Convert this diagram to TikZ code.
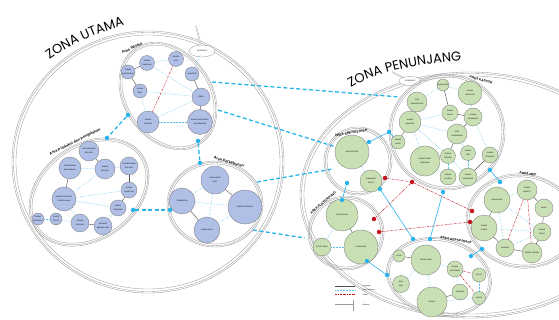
\documentclass[tikz,border=0pt]{standalone}
\usepackage{fontspec}
\setsansfont{Liberation Sans}
\newfontfamily\zonafont{Poppins}
\usetikzlibrary{positioning,calc,decorations.text}

\definecolor{utamafill}{HTML}{AFBFE6}
\definecolor{tunjangfill}{HTML}{C9E0B4}
\definecolor{hubcyan}{HTML}{27B4EA}
\definecolor{lineblue}{HTML}{5CC2EC}
\definecolor{linered}{HTML}{C3121E}
\definecolor{ringgray}{HTML}{9A9A9A}

\newcommand{\ruangfont}{\sffamily\fontsize{1.8}{3.4}\selectfont}
\newcommand{\areafont}{\sffamily\bfseries\fontsize{3.8}{4}\selectfont}

\tikzset{
  ruang/.style={circle,draw=black!55,line width=0.3pt,inner sep=0pt,align=center,font=\ruangfont},
  utama/.style={ruang,fill=utamafill,minimum size=#1},
  tunjang/.style={ruang,fill=tunjangfill,minimum size=#1},
  langsung/.style={draw=black!70,line width=0.4pt},
  dekat/.style={draw=lineblue,line width=0.5pt,densely dotted},
  jauh/.style={draw=linered,line width=0.45pt,dash pattern=on 2pt off 1pt on 0.6pt off 1pt},
  hub/.style={circle,fill=hubcyan,inner sep=0pt,minimum size=4.5pt},
  hubmerah/.style={circle,fill=linered,inner sep=0pt,minimum size=4.5pt},
  antarzona/.style={draw=hubcyan,line width=1.3pt,dash pattern=on 4pt off 2.5pt},
  sambung/.style={draw=hubcyan,line width=0.6pt},
  ring/.style={draw=ringgray,line width=0.35pt},
  arealabel/.style={font=\areafont,inner sep=0pt},
  zonatitle/.style={decorate,decoration={text along path,text align=center,text={#1}}},
}

\begin{document}
\begin{tikzpicture}[x=1pt,y=-1pt]
  \useasboundingbox (0,0) rectangle (559,320);

  % zona rings
  \foreach \d in {0,1.5,4} {
    \draw[ring] (148,162) ellipse [x radius=136-\d, y radius=131-\d];
    \draw[ring] (470,195) ellipse [x radius=170-\d, y radius=123-\d];
  }
  \path[zonatitle={|\zonafont\fontsize{13}{13}\selectfont|ZONA UTAMA}]
    (36,72) .. controls (61,46) and (103,30) .. (142,20);
  \path[zonatitle={|\zonafont\fontsize{13}{13}\selectfont|ZONA PENUNJANG}]
    (338,98) .. controls (362,72) and (425,62) .. (478,60);

  % entrances
  \draw[ringgray,line width=1.2pt] (196,26) -- (201,46);
  \draw[white,line width=0.5pt] (196,26) -- (201,46);
  \draw[ring,fill=white] (202,51) ellipse [x radius=13, y radius=6];
  \node[font=\ruangfont] (entUtama) at (202,51) {ENTRANCE};
  \draw[ringgray,line width=1.2pt] (392,72) -- (404,78);
  \draw[white,line width=0.5pt] (392,72) -- (404,78);
  \draw[ring,fill=white] (410,81) ellipse [x radius=11, y radius=4.5];
  \node[font=\ruangfont] (entTunjang) at (410,81) {ENTRANCE};

  % area rings, zona utama
  \foreach \d in {0,1.3,3} {
    \draw[ring,rotate around={-55:(168,96)}] (168,96) ellipse [x radius=58-\d, y radius=44-\d];
    \draw[ring,rotate around={35:(89,192)}] (89,192) ellipse [x radius=65-\d, y radius=48-\d];
    \draw[ring] (215,204) ellipse [x radius=48-\d, y radius=43-\d];
  }
  % area rings, zona penunjang
  \foreach \d in {0,1.3,3} {
    \draw[ring] (358,161) circle [radius=34-\d];
    \draw[ring] (346,233) ellipse [x radius=38-\d, y radius=37-\d];
    \draw[ring] (447,132) circle [radius=58-\d];
    \draw[ring,rotate around={-12:(439,277)}] (439,277) ellipse [x radius=53-\d, y radius=39-\d];
    \draw[ring,rotate around={-8:(522,221)}] (522,221) ellipse [x radius=56-\d, y radius=47-\d];
  }

  \node[arealabel,rotate=25] at (132,48) {Area Wisata};
  \node[arealabel,rotate=26] at (75,142) {Area Produksi dan Pengolahan};
  \node[arealabel,rotate=-16] at (229,162) {Area Perkebunan};
  \node[arealabel,rotate=10,font=\sffamily\bfseries\fontsize{3.2}{3.5}\selectfont] at (351,133) {AREA AMPHITEATER};
  \node[arealabel,rotate=40,font=\sffamily\bfseries\fontsize{3.2}{3.5}\selectfont] at (323,203) {AREA PLAYGROUND};
  \node[arealabel,rotate=-16,font=\sffamily\bfseries\fontsize{3.2}{3.5}\selectfont] at (481,80) {AREA KANTOR};
  \node[arealabel,rotate=-10,font=\sffamily\bfseries\fontsize{3.2}{3.5}\selectfont] at (456,240) {AREA RESTAURANT};
  \node[arealabel,rotate=-8,font=\sffamily\bfseries\fontsize{3.2}{3.5}\selectfont] at (528,174) {AREA MEP};

  % area wisata
  \node[utama=15] (wisA) at (147,63) {RUANG\\PAMERAN};
  \node[utama=15] (wisB) at (176,59) {GALERI\\KOPI};
  \node[utama=14] (wisC) at (128,72) {RUANG\\AUDIOVISUAL};
  \node[utama=14] (wisD) at (192,74) {SOUVENIR};
  \node[utama=14] (wisE) at (140,91) {KEBUN\\BIBIT};
  \node[utama=18] (wisF) at (201,97) {LOBBY};
  \node[utama=22] (wisG) at (148,122) {RUANG\\EDUKASI};
  \node[utama=25] (wisH) at (200,122) {RUANG WORKSHOP\\DAN SEMINAR};
  \path[langsung] (wisA) edge (wisC) (wisC) edge (wisE)
    (wisD) edge (wisF) (wisF) edge (wisH);
  \path[dekat] (wisA) edge (wisB) (wisA) edge (wisF) (wisE) edge (wisF)
    (wisE) edge (wisG) (wisG) edge (wisF) (wisG) edge (wisH) (entUtama) edge (wisD);
  \path[jauh] (wisG) edge (wisB);

  % area produksi dan pengolahan
  \node[utama=20] (proA) at (89,151) {PENYIMPANAN\\BIJI KOPI};
  \node[utama=22] (proB) at (70,168) {PENERIMAAN\\BAHAN BAKU};
  \node[utama=20] (proC) at (105,169) {RUANG\\SORTASI};
  \node[utama=18] (proD) at (129,166) {PENGERINGAN\\BIJI KOPI};
  \node[utama=24] (proE) at (64,199) {RUANG PRODUKSI\\PENGOLAHAN};
  \node[utama=16] (proF) at (129,190) {RUANG\\ROASTING};
  \node[utama=16] (proG) at (118,208) {RUANG\\GRINDING};
  \node[utama=12] (proH) at (38,219) {RUANG\\ISTIRAHAT};
  \node[utama=12] (proI) at (56,219) {LOKER\\TOILET};
  \node[utama=18] (proJ) at (80,223) {RUANG\\PACKING};
  \node[utama=18] (proK) at (103,226) {GUDANG\\BARANG JADI};
  \path[langsung] (proA) edge (proC) (proB) edge (proE) (proD) edge (proF)
    (proF) edge (proG) (proJ) edge (proK);
  \path[dekat] (proB) edge (proC) (proC) edge (proD) (proC) edge (proE)
    (proE) edge (proF) (proE) edge (proG) (proE) edge (proJ)
    (proH) edge (proI) (proI) edge (proJ) (proK) edge (proG);

  % area perkebunan
  \node[utama=28] (kebA) at (215,180) {KEBUN BIBIT\\KOPI};
  \node[utama=26] (kebB) at (182,201) {PEMBIBITAN};
  \node[utama=34] (kebC) at (245,207) {KEBUN PRODUKSI};
  \node[utama=26] (kebD) at (207,230) {RUMAH KACA};
  \path[langsung] (kebA) edge (kebC) (kebB) edge (kebD);
  \path[dekat] (kebA) edge (kebB) (kebB) edge (kebC) (kebA) edge (kebD) (kebC) edge (kebD);

  % hubungan antar area, zona utama
  \node[hub] (hubWisSW) at (128,115) {};
  \node[hub] (hubProNE) at (107,138) {};
  \node[hub] (hubWisS) at (198,141) {};
  \node[hub] (hubKebN) at (200,163) {};
  \node[hub] (hubProE) at (133,210) {};
  \node[hub] (hubKebW) at (170,210) {};
  \path[antarzona] (hubWisSW) edge (hubProNE) (hubWisS) edge (hubKebN)
    (hubProE) edge (hubKebW);

  % hubungan antar zona
  \coordinate (utamaA) at (212,82);
  \coordinate (utamaB) at (218,110);
  \coordinate (utamaC) at (257,182);
  \coordinate (utamaD) at (253,230);
  \coordinate (tunjangA) at (400,97);
  \coordinate (tunjangC) at (333,169);
  \coordinate (tunjangD) at (305,238);

  % area amphiteater
  \node[tunjang=34] (amfA) at (352,152) {AMPHITEATER};
  \node[tunjang=22] (amfB) at (371,181) {COMMUNAL\\SPACE};
  \path[dekat] (amfA) edge (amfB);

  \path[antarzona] (utamaA) edge (tunjangA) (utamaB) edge (amfA)
    (utamaC) edge (tunjangC) (utamaD) edge (tunjangD);

  % area playground
  \node[tunjang=32] (plyA) at (342,215) {PLAYGROUND};
  \node[tunjang=18] (plyB) at (322,247) {SPORT AREA};
  \node[tunjang=34] (plyC) at (361,247) {OUTBOUND};
  \path[langsung] (plyA) edge (plyC);
  \path[dekat] (plyA) edge (plyB) (plyB) edge (plyC);

  % area kantor
  \node[tunjang=12] (kanA) at (443,85) {RUANG TAMU};
  \node[tunjang=24] (kanB) at (470,93) {RUANG\\DIREKTUR};
  \node[tunjang=20] (kanC) at (417,102) {STAF\\ADMINISTRASI};
  \node[tunjang=16] (kanD) at (450,113) {RUANG\\RAPAT};
  \node[tunjang=18] (kanE) at (473,117) {RUANG\\KEUANGAN};
  \node[tunjang=22] (kanF) at (410,122) {RUANG\\MANAJER};
  \node[tunjang=20] (kanG) at (457,134) {STAF\\PEMASARAN};
  \node[tunjang=14] (kanH) at (398,142) {RUANG\\ARSIP};
  \node[tunjang=15] (kanI) at (448,156) {RUANG\\SERVER};
  \node[tunjang=15] (kanJ) at (468,153) {RUANG\\HRD};
  \node[tunjang=16] (kanK) at (490,155) {RUANG\\ISTIRAHAT};
  \node[tunjang=30] (kanL) at (425,161) {RUANG RAPAT\\BERSAMA};
  \node[tunjang=16] (kanM) at (448,177) {RUANG\\LAKTASI};
  \node[tunjang=18] (kanN) at (468,177) {RUANG\\KEAMANAN};
  \path[langsung] (kanA) edge (kanD) (kanD) edge (kanE) (kanE) edge (kanG)
    (kanF) edge (kanH) (kanG) edge (kanI) (kanK) edge (kanN);
  \path[dekat] (kanA) edge (kanB) (kanA) edge (kanC) (kanB) edge (kanE)
    (kanC) edge (kanF) (kanF) edge (kanD) (kanF) edge (kanG) (kanF) edge (kanL)
    (kanF) edge (kanI) (kanE) edge (kanK) (kanG) edge (kanJ) (kanL) edge (kanM)
    (kanI) edge (kanM) (kanI) edge (kanN) (kanJ) edge (kanN);

  % area restaurant
  \node[tunjang=12] (resA) at (399,256) {KASIR};
  \node[tunjang=30] (resB) at (426,260) {DINING AREA};
  \node[tunjang=16] (resC) at (455,269) {RUANG\\KARYAWAN};
  \node[tunjang=14] (resD) at (479,275) {TOILET};
  \node[tunjang=17] (resE) at (401,284) {BAR\\KOPI};
  \node[tunjang=16] (resF) at (460,292) {GUDANG};
  \node[tunjang=30] (resG) at (432,302) {DAPUR};
  \node[tunjang=13] (resH) at (479,298) {LOKER};
  \path[langsung] (resA) edge (resB) (resF) edge (resG);
  \path[dekat] (resB) edge (resC) (resB) edge (resE) (resB) edge (resG)
    (resC) edge (resF) (resD) edge (resH) (resG) edge (resH);
  \path[jauh] (resC) edge (resD) (resC) edge (resH);

  % area mep
  \node[tunjang=26] (mepA) at (497,200) {RUANG MEP};
  \node[tunjang=20] (mepB) at (527,190) {RUANG\\GENSET};
  \node[tunjang=18] (mepC) at (544,208) {PANEL};
  \node[tunjang=26] (mepD) at (484,228) {RUANG\\POMPA};
  \node[tunjang=18] (mepE) at (542,232) {RUANG\\TRAFO};
  \node[tunjang=18] (mepF) at (505,248) {GUDANG};
  \node[tunjang=20] (mepG) at (532,253) {RUANG TEKNISI};
  \path[langsung] (mepB) edge (mepC) (mepC) edge (mepE) (mepA) edge (mepD)
    (mepD) edge (mepF) (mepF) edge (mepG) (mepG) edge (mepE);
  \path[dekat] (mepA) edge (mepB) (mepA) edge (mepE) (mepA) edge (mepF)
    (mepD) edge (mepE) (mepF) edge (mepE);
  \path[jauh] (mepB) edge (mepF) (mepB) edge (mepG);

  % hubungan antar area, zona penunjang
  \node[hub] (hubAmfNE) at (369,142) {};
  \node[hub] (hubKanW) at (389,132) {};
  \node[hub] (hubAmfS) at (347,183) {};
  \node[hub] (hubPlyN) at (342,200) {};
  \node[hub] (hubPlySE) at (367,261) {};
  \node[hub] (hubResW) at (387,275) {};
  \node[hub] (hubAmfSE) at (380,189) {};
  \node[hub] (hubResNW) at (413,239) {};
  \node[hub] (hubKanS) at (443,192) {};
  \node[hub] (hubResN) at (430,239) {};
  \node[hub] (hubKanSE) at (490,170) {};
  \node[hub] (hubMepNW) at (500,182) {};
  \node[hub] (hubResE) at (471,256) {};
  \node[hub] (hubMepSW) at (482,249) {};
  \path[sambung] (hubAmfNE) edge (hubKanW) (hubKanW) edge (kanH)
    (hubAmfS) edge (hubPlyN) (hubPlySE) edge (hubResW)
    (hubAmfSE) edge (hubResNW) (hubKanS) edge (hubResN)
    (hubKanSE) edge (hubMepNW) (hubResE) edge (hubMepSW);

  \node[hubmerah] (jauhA) at (385,178) {};
  \node[hubmerah] (jauhB) at (412,182) {};
  \node[hubmerah] (jauhC) at (472,211) {};
  \node[hubmerah] (jauhD) at (374,219) {};
  \node[hubmerah] (jauhE) at (379,232) {};
  \node[hubmerah] (jauhF) at (470,222) {};
  \path[jauh] (jauhA) edge (jauhB) (jauhB) edge (jauhC) (jauhB) edge (jauhD)
    (jauhE) edge (jauhF);

  % keterangan
  \draw[langsung] (335,286) -- (355,286);
  \draw[dekat] (335,290) -- (355,290);
  \draw[jauh] (335,294.5) -- (355,294.5);
  \draw[ringgray,line width=1.2pt] (335,305) -- (353,305);
  \draw[white,line width=0.5pt] (335,305) -- (353,305);
  \draw[ringgray,line width=0.5pt] (353,300) -- (353,311);
  \node[font=\ruangfont,anchor=west] at (359,286) {Langsung};
  \node[font=\ruangfont,anchor=west] at (359,290) {Tidak langsung};
  \node[font=\ruangfont,anchor=west] at (359,294.5) {Visual};
  \node[font=\ruangfont,anchor=west] at (359,305) {Entrance};
\end{tikzpicture}
\end{document}
